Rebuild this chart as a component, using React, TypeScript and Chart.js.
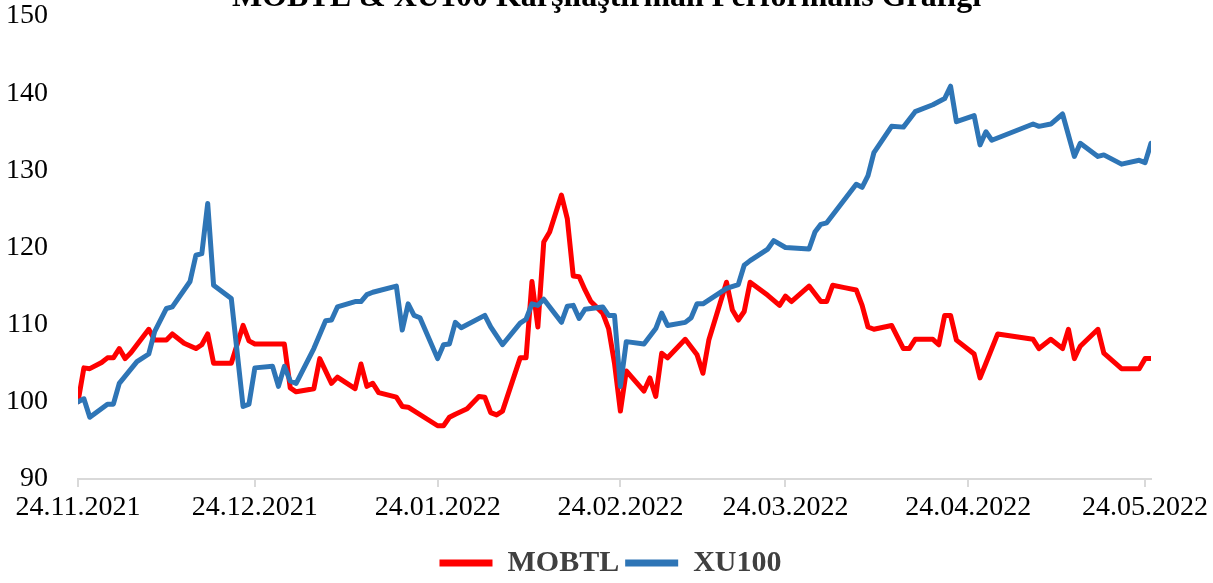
import React, { useEffect, useRef } from 'react';
import { Chart, registerables } from 'chart.js';

Chart.register(...registerables);

const TITLE = 'MOBTL & XU100 Karşılaştırmalı Performans Grafiği';
const START_DATE = '2021-11-24';
const END_DATE = '2022-05-25';

const tickDates = ['2021-11-24', '2021-12-24', '2022-01-24', '2022-02-24', '2022-03-24', '2022-04-24', '2022-05-24'];
const tickLabels = ['24.11.2021', '24.12.2021', '24.01.2022', '24.02.2022', '24.03.2022', '24.04.2022', '24.05.2022'];

const mobtlDates = [
  '2021-11-24', '2021-11-25', '2021-11-26', '2021-11-28', '2021-11-29', '2021-11-30', '2021-12-01', '2021-12-02',
  '2021-12-03', '2021-12-06', '2021-12-07', '2021-12-09', '2021-12-10', '2021-12-12', '2021-12-14', '2021-12-15',
  '2021-12-16', '2021-12-17', '2021-12-20', '2021-12-22', '2021-12-23', '2021-12-24', '2021-12-29', '2021-12-30',
  '2021-12-31', '2022-01-03', '2022-01-04', '2022-01-06', '2022-01-07', '2022-01-10', '2022-01-11', '2022-01-12',
  '2022-01-13', '2022-01-14', '2022-01-17', '2022-01-18', '2022-01-19', '2022-01-24', '2022-01-25', '2022-01-26',
  '2022-01-27', '2022-01-29', '2022-01-31', '2022-02-01', '2022-02-02', '2022-02-03', '2022-02-04', '2022-02-07',
  '2022-02-08', '2022-02-09', '2022-02-10', '2022-02-11', '2022-02-12', '2022-02-14', '2022-02-15', '2022-02-16',
  '2022-02-17', '2022-02-18', '2022-02-19', '2022-02-21', '2022-02-22', '2022-02-23', '2022-02-24', '2022-02-25',
  '2022-02-28', '2022-03-01', '2022-03-02', '2022-03-03', '2022-03-04', '2022-03-07', '2022-03-09', '2022-03-10',
  '2022-03-11', '2022-03-14', '2022-03-15', '2022-03-16', '2022-03-17', '2022-03-18', '2022-03-21', '2022-03-23',
  '2022-03-24', '2022-03-25', '2022-03-28', '2022-03-30', '2022-03-31', '2022-04-01', '2022-04-03', '2022-04-05',
  '2022-04-06', '2022-04-07', '2022-04-08', '2022-04-11', '2022-04-13', '2022-04-14', '2022-04-15', '2022-04-18',
  '2022-04-19', '2022-04-20', '2022-04-21', '2022-04-22', '2022-04-25', '2022-04-26', '2022-04-27', '2022-04-29',
  '2022-05-05', '2022-05-06', '2022-05-08', '2022-05-10', '2022-05-11', '2022-05-12', '2022-05-13', '2022-05-16',
  '2022-05-17', '2022-05-20', '2022-05-23', '2022-05-24', '2022-05-25',
];
const mobtlValues = [
  100, 104.4, 104.3, 105.1, 105.7, 105.7, 106.9, 105.6,
  106.4, 109.4, 108.0, 108.0, 108.8, 107.6, 106.9, 107.4,
  108.8, 105.0, 105.0, 109.9, 107.9, 107.5, 107.5, 101.8,
  101.3, 101.7, 105.6, 102.4, 103.2, 101.7, 104.9, 102.0,
  102.4, 101.2, 100.6, 99.4, 99.3, 96.9, 96.9, 98.0,
  98.4, 99.1, 100.7, 100.6, 98.6, 98.3, 98.8, 105.7,
  105.7, 115.6, 109.7, 120.7, 122.0, 126.8, 123.7, 116.3,
  116.2, 114.5, 113.0, 111.5, 109.5, 105.0, 98.8, 104.0,
  101.4, 103.1, 100.7, 106.3, 105.7, 108.1, 106.1, 103.7,
  108.0, 115.5, 111.9, 110.6, 111.7, 115.5, 113.8, 112.5,
  113.7, 113.0, 115.0, 113.0, 113.0, 115.1, 114.8, 114.5,
  112.5, 109.7, 109.4, 109.9, 106.9, 106.9, 108.1, 108.1,
  107.4, 111.2, 111.2, 108.0, 106.2, 103.1, 105.0, 108.8,
  108.1, 106.9, 108.1, 106.9, 109.4, 105.6, 107.2, 109.4,
  106.3, 104.3, 104.3, 105.6, 105.6,
];

const xu100Dates = [
  '2021-11-24', '2021-11-25', '2021-11-26', '2021-11-29', '2021-11-30', '2021-12-01', '2021-12-04', '2021-12-06',
  '2021-12-07', '2021-12-09', '2021-12-10', '2021-12-13', '2021-12-14', '2021-12-15', '2021-12-16', '2021-12-17',
  '2021-12-20', '2021-12-22', '2021-12-23', '2021-12-24', '2021-12-27', '2021-12-28', '2021-12-29', '2021-12-30',
  '2021-12-31', '2022-01-03', '2022-01-05', '2022-01-06', '2022-01-07', '2022-01-10', '2022-01-11', '2022-01-12',
  '2022-01-13', '2022-01-17', '2022-01-18', '2022-01-19', '2022-01-20', '2022-01-21', '2022-01-24', '2022-01-25',
  '2022-01-26', '2022-01-27', '2022-01-28', '2022-02-01', '2022-02-02', '2022-02-04', '2022-02-07', '2022-02-08',
  '2022-02-09', '2022-02-10', '2022-02-11', '2022-02-14', '2022-02-15', '2022-02-16', '2022-02-17', '2022-02-18',
  '2022-02-21', '2022-02-22', '2022-02-23', '2022-02-24', '2022-02-25', '2022-02-28', '2022-03-01', '2022-03-02',
  '2022-03-03', '2022-03-04', '2022-03-07', '2022-03-08', '2022-03-09', '2022-03-10', '2022-03-14', '2022-03-16',
  '2022-03-17', '2022-03-18', '2022-03-21', '2022-03-22', '2022-03-24', '2022-03-28', '2022-03-29', '2022-03-30',
  '2022-03-31', '2022-04-05', '2022-04-06', '2022-04-07', '2022-04-08', '2022-04-11', '2022-04-13', '2022-04-15',
  '2022-04-18', '2022-04-20', '2022-04-21', '2022-04-22', '2022-04-25', '2022-04-26', '2022-04-27', '2022-04-28',
  '2022-05-05', '2022-05-06', '2022-05-08', '2022-05-10', '2022-05-12', '2022-05-13', '2022-05-16', '2022-05-17',
  '2022-05-20', '2022-05-23', '2022-05-24', '2022-05-25',
];
const xu100Values = [
  100, 100.4, 98.0, 99.7, 99.7, 102.4, 105.2, 106.2,
  109.1, 112.1, 112.3, 115.6, 119.0, 119.2, 125.7, 115.1,
  113.4, 99.4, 99.7, 104.4, 104.6, 102.0, 104.6, 102.7,
  102.4, 106.9, 110.5, 110.6, 112.3, 113.0, 113.0, 113.9,
  114.2, 115.0, 109.3, 112.7, 111.2, 110.9, 105.6, 107.4,
  107.5, 110.3, 109.6, 111.2, 109.7, 107.4, 110.2, 110.7,
  112.7, 112.5, 113.3, 110.3, 112.4, 112.5, 110.8, 112.0,
  112.3, 111.2, 111.2, 102.0, 107.8, 107.5, 108.5, 109.5,
  111.5, 109.9, 110.3, 110.9, 112.7, 112.7, 114.7, 115.2,
  117.7, 118.3, 119.8, 120.9, 120.0, 119.8, 122.0, 123.0,
  123.2, 128.2, 127.8, 129.3, 132.3, 135.7, 135.6, 137.6,
  138.5, 139.3, 140.9, 136.3, 137.1, 133.3, 135.0, 133.9,
  136.0, 135.7, 136.0, 137.3, 131.8, 133.5, 131.8, 132.0,
  130.8, 131.3, 131.0, 133.5,
];

const FONT = '"Liberation Serif", "Times New Roman", serif';

function dayOffset(d: string): number {
  const [y, m, dd] = d.split('-').map(Number);
  const [sy, sm, sd] = START_DATE.split('-').map(Number);
  return Math.round((Date.UTC(y, m - 1, dd) - Date.UTC(sy, sm - 1, sd)) / 86400000);
}

const titlePlugin = {
  id: 'cutTitle',
  afterDraw(chart: any) {
    const ctx = chart.ctx;
    ctx.save();
    ctx.font = `bold 32px ${FONT}`;
    ctx.fillStyle = '#000000';
    ctx.textAlign = 'center';
    ctx.textBaseline = 'alphabetic';
    ctx.fillText(TITLE, chart.width / 2, 6);
    ctx.restore();
  },
};

export default function App() {
  const ref = useRef<HTMLCanvasElement | null>(null);

  useEffect(() => {
    if (!ref.current) return;
    const chart = new Chart(ref.current, {
      type: 'line',
      data: {
        datasets: [
          {
            label: 'MOBTL',
            data: mobtlDates.map((d, i) => ({ x: dayOffset(d), y: mobtlValues[i] })),
            borderColor: '#FF0000',
            backgroundColor: '#FF0000',
            borderWidth: 5,
            order: 1,
          },
          {
            label: 'XU100',
            data: xu100Dates.map((d, i) => ({ x: dayOffset(d), y: xu100Values[i] })),
            borderColor: '#2E75B6',
            backgroundColor: '#2E75B6',
            borderWidth: 5,
            order: 0,
          },
        ],
      },
      options: {
        animation: false,
        responsive: true,
        maintainAspectRatio: false,
        layout: { padding: { left: 8, right: 0, top: 16, bottom: -5 } },
        elements: {
          point: { radius: 0, hoverRadius: 0 },
          line: { tension: 0, borderJoinStyle: 'round', borderCapStyle: 'round' },
        },
        scales: {
          x: {
            type: 'linear',
            min: 0,
            max: dayOffset(END_DATE),
            afterBuildTicks: (scale: any) => {
              scale.ticks = tickDates.map((d) => ({ value: dayOffset(d) }));
            },
            afterFit: (scale: any) => {
              scale.height = 63;
              scale.paddingRight = 62;
            },
            ticks: {
              autoSkip: false,
              maxRotation: 0,
              padding: 5,
              color: '#000000',
              font: { family: FONT, size: 28, lineHeight: 1.1 },
              callback: (value: any) => {
                const i = tickDates.findIndex((d) => dayOffset(d) === value);
                return i >= 0 ? tickLabels[i] : '';
              },
            },
            grid: { drawOnChartArea: false, drawTicks: true, tickLength: 8, color: '#D9D9D9', lineWidth: 2 },
            border: { color: '#D9D9D9', width: 2 },
          },
          y: {
            min: 90,
            max: 150,
            afterFit: (scale: any) => {
              scale.width = 70;
            },
            ticks: {
              stepSize: 10,
              padding: 0,
              color: '#000000',
              font: { family: FONT, size: 28, lineHeight: 1.1 },
            },
            grid: { display: false, drawTicks: true, tickLength: 30 },
            border: { display: false },
          },
        },
        plugins: {
          title: { display: false },
          tooltip: { enabled: false },
          legend: {
            position: 'bottom',
            labels: {
              boxWidth: 53,
              boxHeight: 7,
              padding: 6,
              color: '#404040',
              font: { family: FONT, size: 30, weight: 'bold' },
              generateLabels: (c: any) =>
                c.data.datasets.map((ds: any, i: number) => ({
                  text: ds.label,
                  fillStyle: ds.borderColor,
                  strokeStyle: ds.borderColor,
                  lineWidth: 0,
                  hidden: false,
                  datasetIndex: i,
                  fontColor: '#404040',
                })),
            },
          },
        },
      },
      plugins: [titlePlugin],
    } as any);
    return () => chart.destroy();
  }, []);

  return (
    <div style={{ position: 'fixed', left: 0, top: 0, width: 1213, height: 583, background: '#ffffff' }}>
      <canvas ref={ref} />
    </div>
  );
}
